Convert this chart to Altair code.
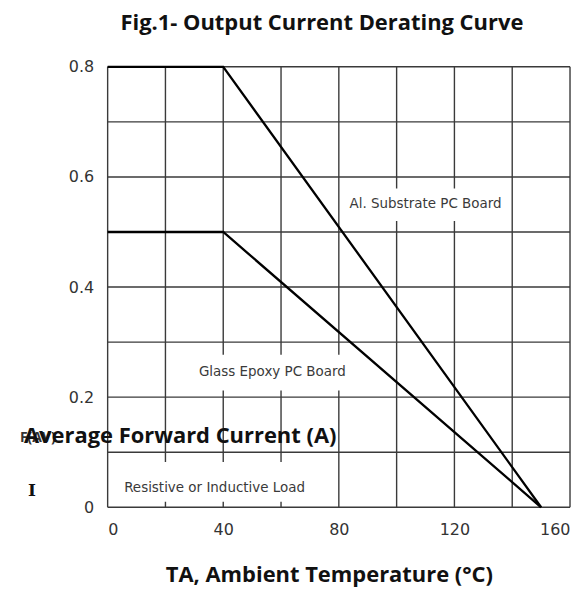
import altair as alt
import pandas as pd

# Curves
al_temp = [0, 40, 150]
al_curr = [0.8, 0.8, 0.0]
glass_temp = [0, 40, 150]
glass_curr = [0.5, 0.5, 0.0]

# Grid
grid_x = [0, 20, 40, 60, 80, 100, 120, 140, 160]
grid_y = [0.0, 0.1, 0.2, 0.3, 0.4, 0.5, 0.6, 0.7, 0.8]
x_ticks = [0, 40, 80, 120, 160]
y_ticks = [0, 0.2, 0.4, 0.6, 0.8]

# Annotations (label, x, y, box x1, x2, y1, y2)
ann_text = ["Al. Substrate PC Board", "Glass Epoxy PC Board", "Resistive or Inductive Load"]
ann_x = [110, 57, 37]
ann_y = [0.55, 0.245, 0.035]
box_x1 = [82, 27, 3]
box_x2 = [138, 87, 71]
box_y1 = [0.52, 0.212, 0.01]
box_y2 = [0.579, 0.277, 0.082]

W, H = 464, 442
xs = alt.Scale(domain=[0, 160], nice=False)
ys = alt.Scale(domain=[0, 0.8], nice=False)

curves = pd.DataFrame({
    "t": al_temp + glass_temp,
    "i": al_curr + glass_curr,
    "board": ["Al"] * len(al_temp) + ["Glass"] * len(glass_temp),
})
gx = pd.DataFrame({"x": grid_x})
gy = pd.DataFrame({"y": grid_y})
ann = pd.DataFrame({"label": ann_text, "x": ann_x, "y": ann_y,
                    "x1": box_x1, "x2": box_x2, "y1": box_y1, "y2": box_y2})

vrules = alt.Chart(gx).mark_rule(color="#3a3a3a", strokeWidth=1.4).encode(
    x=alt.X("x:Q", scale=xs,
            axis=alt.Axis(values=x_ticks, grid=False, domain=False, ticks=False,
                          labelFont="DejaVu Sans", labelFontSize=16, labelColor="#333",
                          labelPadding=14, title="TA, Ambient Temperature (°C)",
                          titleFont="Open Sans", titleFontSize=22, titleFontWeight="bold",
                          titleColor="#111", titlePadding=27, titleX=W / 2 - 10)),
    y=alt.value(0), y2=alt.value(H),
)
hrules = alt.Chart(gy).mark_rule(color="#3a3a3a", strokeWidth=1.4).encode(
    y=alt.Y("y:Q", scale=ys,
            axis=alt.Axis(values=y_ticks, grid=False, domain=False, ticks=False,
                          labelFont="DejaVu Sans", labelFontSize=16, labelColor="#333",
                          labelPadding=14, title=None, format=".1~f")),
    x=alt.value(0), x2=alt.value(W),
)
boxes = alt.Chart(ann).mark_rect(color="white").encode(
    x=alt.X("x1:Q", scale=xs), x2="x2:Q",
    y=alt.Y("y1:Q", scale=ys), y2="y2:Q",
)
lines = alt.Chart(curves).mark_line(color="black", strokeWidth=2.3).encode(
    x=alt.X("t:Q", scale=xs), y=alt.Y("i:Q", scale=ys), detail="board:N",
)
labels = alt.Chart(ann).mark_text(font="DejaVu Sans", fontSize=13.5, color="#3a3a3a").encode(
    x=alt.X("x:Q", scale=xs), y=alt.Y("y:Q", scale=ys), text="label:N",
)

ytitle = alt.Chart(pd.DataFrame({"t": ["Average Forward Current (A)"]})).mark_text(
    font="Open Sans", fontSize=22, fontWeight="bold", color="#111", align="left",
).encode(x=alt.value(-84), y=alt.value(371), text="t:N")
fav = alt.Chart(pd.DataFrame({"t": ["F(AV)"]})).mark_text(
    font="Open Sans", fontSize=14, fontWeight="bold", color="#333", align="left",
).encode(x=alt.value(-88), y=alt.value(373), text="t:N")
iletter = alt.Chart(pd.DataFrame({"t": ["I"]})).mark_text(
    font="DejaVu Serif", fontSize=17, fontWeight="bold", color="#111", align="left",
).encode(x=alt.value(-80), y=alt.value(426), text="t:N")

chart = alt.layer(vrules, hrules, boxes, lines, labels, fav, ytitle, iletter).properties(
    width=W, height=H,
    title=alt.TitleParams("Fig.1- Output Current Derating Curve", font="Open Sans",
                          fontSize=22, fontWeight="bold", color="#111", anchor="middle",
                          offset=24, dx=-17),
    autosize=alt.AutoSizeParams(type="none"),
    padding={"left": 100, "top": 58, "right": 4, "bottom": 82},
).configure_view(stroke=None)

chart.save("out.html", embed_options={"renderer": "svg", "actions": False})
